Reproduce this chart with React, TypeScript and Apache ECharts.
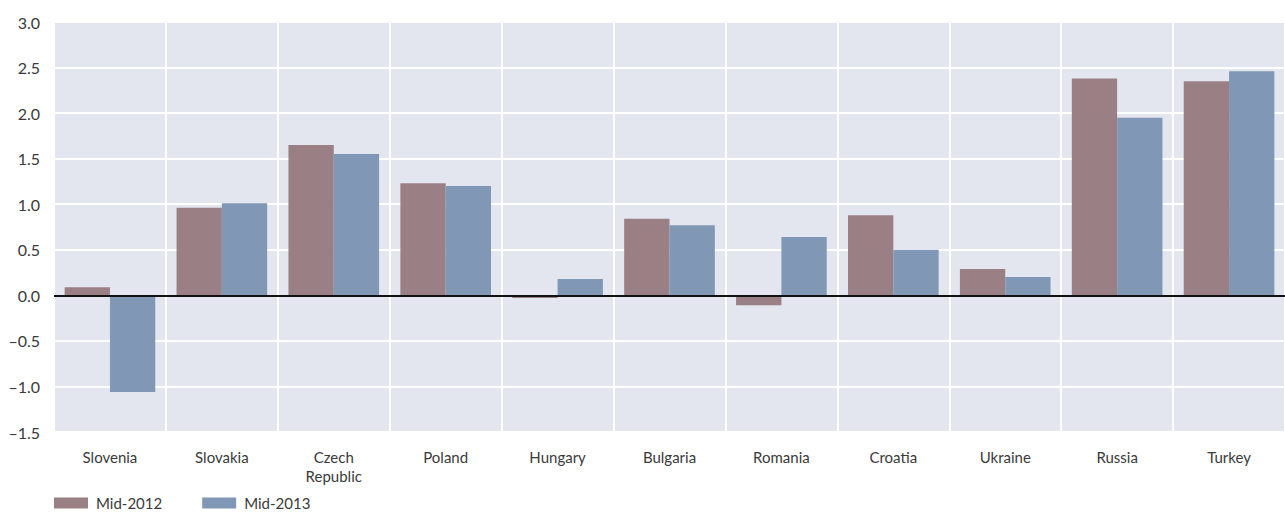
import React, { useEffect, useRef } from "react";
import * as echarts from "echarts";

const categories = ["Slovenia", "Slovakia", "Czech\nRepublic", "Poland", "Hungary", "Bulgaria", "Romania", "Croatia", "Ukraine", "Russia", "Turkey"];
const mid2012 = [0.09, 0.96, 1.65, 1.23, -0.03, 0.84, -0.11, 0.88, 0.29, 2.38, 2.35];
const mid2013 = [-1.06, 1.01, 1.55, 1.2, 0.18, 0.77, 0.64, 0.5, 0.2, 1.95, 2.46];
const seriesNames = ["Mid-2012", "Mid-2013"];

export default function App() {
  const ref = useRef<HTMLDivElement>(null);
  useEffect(() => {
    document.body.style.margin = "0";
    const chart = echarts.init(ref.current!, null, { renderer: "svg" });
    const font = "Lato, 'Open Sans', sans-serif";
    chart.setOption({
      animation: false,
      textStyle: { fontFamily: font },
      grid: {
        left: 54, right: 0, top: 22, bottom: 80,
        show: true, backgroundColor: "#e3e6ee", borderWidth: 0,
      },
      legend: {
        left: 54, top: 495, padding: 0, itemWidth: 34, itemHeight: 11, itemGap: 40,
        icon: "rect",
        textStyle: { fontSize: 15, lineHeight: 16, color: "#3a3a3a", fontFamily: font, padding: [0, 0, 0, 3] },
        data: seriesNames,
      },
      xAxis: {
        type: "category",
        data: categories,
        axisLine: { show: false },
        axisTick: { show: false },
        axisLabel: { fontSize: 15, color: "#3a3a3a", margin: 15, lineHeight: 19, fontFamily: font },
        splitLine: { show: true, lineStyle: { color: "#ffffff", width: 2 } },
      },
      yAxis: {
        type: "value",
        min: -1.5, max: 3, interval: 0.5,
        axisLine: { show: false },
        axisTick: { show: false },
        axisLabel: {
          fontSize: 16, color: "#3a3a3a", margin: 14, fontFamily: font,
          formatter: (v: number) => (v < 0 ? "\u2013" + Math.abs(v).toFixed(1) : v.toFixed(1)),
        },
        splitLine: { show: true, lineStyle: { color: "#ffffff", width: 2 } },
      },
      series: [
        {
          name: seriesNames[0], type: "bar", data: mid2012,
          barGap: "0%", barCategoryGap: "19%",
          itemStyle: { color: "#9a8084" },
          markLine: {
            silent: true, symbol: "none", label: { show: false },
            lineStyle: { color: "#111111", width: 2, type: "solid" },
            data: [{ yAxis: 0 }],
          },
        },
        {
          name: seriesNames[1], type: "bar", data: mid2013,
          barGap: "0%", barCategoryGap: "19%",
          itemStyle: { color: "#8097b5" },
        },
      ],
    });
    return () => chart.dispose();
  }, []);
  return <div ref={ref} style={{ width: 1285, height: 512 }} />;
}
